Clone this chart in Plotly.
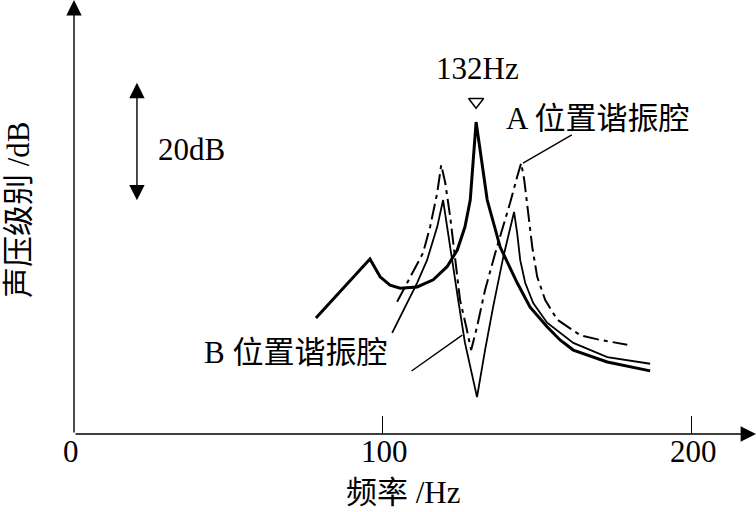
import plotly.graph_objects as go

# ---- data (frequency in Hz, relative sound pressure level in dB) ----
base_hz = [78.4, 95.9, 99.2, 102.4, 105.7, 111.2, 116.4, 120.9, 124.2, 126.7, 128.4, 129.3, 130.3,
           131.6, 133.9, 138.1, 143.6, 147.8, 153.3, 157.5, 161.8, 172.8, 186.7]
base_db = [19.5, 29.4, 26.4, 25.0, 24.5, 24.7, 25.9, 28.1, 30.9, 34.8, 39.3, 44.9, 52.4,
           47.7, 39.3, 31.4, 25.4, 21.3, 18.0, 15.8, 14.1, 12.1, 10.6]

a_hz = [104.7, 107.3, 109.9, 113.1, 115.4, 117.7, 119.0, 120.3, 121.9, 123.5, 125.1, 127.1, 128.7,
        130.6, 133.2, 136.5, 139.1, 141.3, 143.6, 144.9, 145.9, 147.2, 148.5, 150.1, 152.7, 156.6,
        164.0, 170.5, 179.3]
a_db = [22.2, 24.7, 27.2, 30.4, 34.8, 40.5, 45.2, 42.2, 36.5, 29.2, 22.5, 18.0, 14.1,
        18.0, 24.2, 30.4, 34.8, 38.8, 43.2, 45.5, 42.7, 37.1, 31.4, 26.4, 22.5, 19.2,
        16.6, 15.8, 15.0]

b_hz = [103.1, 105.7, 108.3, 111.2, 114.4, 117.7, 119.6, 120.9, 122.2, 124.5, 126.7, 129.0, 130.6,
        133.2, 135.8, 139.1, 141.3, 142.6, 143.6, 144.6, 146.2, 148.8, 153.3, 161.8, 172.8, 186.7]
b_db = [17.0, 19.7, 22.5, 25.4, 29.2, 34.8, 39.3, 34.8, 29.7, 22.5, 15.3, 9.6, 6.2,
        14.1, 21.3, 29.7, 34.3, 37.3, 33.8, 29.2, 25.4, 22.0, 18.7, 15.3, 12.9, 11.8]

peak_hz = 130.3
peak_label = "132Hz"
x_ticks = [0, 100, 200]
x_ticklabels = ["0", "100", "200"]
scale_db = 20
x_title = "频率 /Hz"
y_title = "声压级别 /dB"
label_a = "A 位置谐振腔"
label_b = "B 位置谐振腔"

# ---- figure ----
W, H = 756, 512
ML, MB = 74, 78
XMAX = 221.0
YMAX = 72.9
FONT = "Liberation Serif, Times New Roman, Noto Sans CJK SC, serif"
FS = 31

fig = go.Figure()
fig.add_trace(go.Scatter(x=base_hz, y=base_db, mode="lines",
                         line=dict(color="black", width=3), hoverinfo="skip"))
fig.add_trace(go.Scatter(x=a_hz, y=a_db, mode="lines",
                         line=dict(color="black", width=2, dash="16px,5px,4px,5px"), hoverinfo="skip"))
fig.add_trace(go.Scatter(x=b_hz, y=b_db, mode="lines",
                         line=dict(color="black", width=1.8), hoverinfo="skip"))
# peak marker
fig.add_trace(go.Scatter(x=[peak_hz], y=[55.8], mode="markers",
                         marker=dict(symbol="triangle-down-open", size=13,
                                     line=dict(color="black", width=1.5), color="black"),
                         hoverinfo="skip", cliponaxis=False))

def px2paper(px, py):
    return (px - ML) / (W - ML), (H - MB - py) / (H - MB)

annotations = []
# axes with arrows
annotations.append(dict(x=XMAX, y=0, ax=0, ay=0, xref="x", yref="y", axref="x", ayref="y",
                        showarrow=True, arrowhead=2, arrowsize=2.2, arrowwidth=1.4,
                        arrowcolor="black", text=""))
annotations.append(dict(x=0, y=YMAX, ax=0, ay=0, xref="x", yref="y", axref="x", ayref="y",
                        showarrow=True, arrowhead=2, arrowsize=2.2, arrowwidth=1.4,
                        arrowcolor="black", text=""))
# 20 dB scale arrow
annotations.append(dict(x=20.4, y=39.0 + scale_db, ax=20.4, ay=39.0, xref="x", yref="y",
                        axref="x", ayref="y", showarrow=True, arrowhead=2, startarrowhead=2,
                        arrowside="end+start", arrowsize=2.2, startarrowsize=2.2, arrowwidth=1.4,
                        arrowcolor="black", text=""))
# leader lines
annotations.append(dict(x=145.5, y=45.5, ax=161.8, ay=50.4, xref="x", yref="y", axref="x", ayref="y",
                        showarrow=True, arrowhead=0, arrowwidth=1.4, arrowcolor="black", text=""))
annotations.append(dict(x=125.8, y=16.6, ax=108.9, ay=10.4, xref="x", yref="y", axref="x", ayref="y",
                        showarrow=True, arrowhead=0, arrowwidth=1.4, arrowcolor="black", text=""))

def text_ann(txt, px, py, anchor="center", angle=0):
    x, y = px2paper(px, py)
    return dict(text=txt, x=x, y=y, xref="paper", yref="paper", showarrow=False,
                xanchor=anchor, yanchor="middle", textangle=angle,
                font=dict(family=FONT, size=FS, color="black"))

# tick labels
_, tick_y = px2paper(0, 452)
for tv, tl in zip(x_ticks, x_ticklabels):
    annotations.append(dict(text=tl, x=tv, y=tick_y, xref="x", yref="paper", showarrow=False,
                            xanchor="center", yanchor="middle", xshift=(-3 if tv == 0 else 2),
                            font=dict(family=FONT, size=FS, color="black")))

annotations.append(text_ann("20dB", 156, 149, "left"))
annotations.append(text_ann(peak_label, 477, 68))
annotations.append(text_ann(label_a, 504, 118, "left"))
annotations.append(text_ann(label_b, 202, 352, "left"))
annotations.append(text_ann(x_title, 403, 492))
annotations.append(text_ann(y_title, 18, 210, angle=-90))

fig.update_layout(
    width=W, height=H,
    margin=dict(l=ML, r=0, t=0, b=MB, pad=0),
    paper_bgcolor="white", plot_bgcolor="white",
    showlegend=False,
    annotations=annotations,
    xaxis=dict(range=[0, XMAX], showgrid=False, zeroline=False, showline=False,
               tickmode="array", tickvals=x_ticks, showticklabels=False,
               ticks="inside", ticklen=18, tickwidth=1.4, tickcolor="black", fixedrange=True),
    yaxis=dict(range=[0, YMAX], showgrid=False, zeroline=False, showline=False,
               showticklabels=False, ticks="", fixedrange=True),
)

fig.write_html("out.html", config={"displayModeBar": False},
               post_script="document.body.style.margin='0';document.body.style.overflow='hidden';")
